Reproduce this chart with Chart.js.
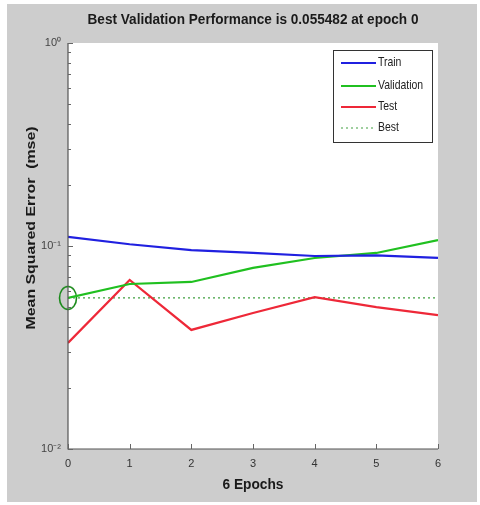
<!DOCTYPE html>
<html>
<head>
<meta charset="utf-8">
<script src="https://cdn.jsdelivr.net/npm/chart.js@4.4.0/dist/chart.umd.min.js"></script>
<style>
html,body{margin:0;padding:0;background:#fff;}
#c{display:block;}
</style>
</head>
<body>
<canvas id="c" width="480" height="505"></canvas>
<script>
// ---- data ----
const epochs = [0, 1, 2, 3, 4, 5, 6];
const trainMse = [0.111, 0.102, 0.0955, 0.0924, 0.0893, 0.090, 0.0873];
const validationMse = [0.055482, 0.065, 0.0665, 0.078, 0.0873, 0.0924, 0.107];
const testMse = [0.0333, 0.068, 0.0386, 0.0468, 0.056, 0.050, 0.0457];
const bestValue = 0.055482;
const bestEpoch = 0;
const xTickLabels = ['0', '1', '2', '3', '4', '5', '6'];
const yDecades = [0.01, 0.1, 1];
const yDecadeLabels = ['10\u207B\u00B2', '10\u207B\u00B9', '10\u2070'];
const titleText = 'Best Validation Performance is 0.055482 at epoch 0';
const xTitleText = '6 Epochs';
const yTitleText = 'Mean Squared Error  (mse)';
const legendNames = ['Train', 'Validation', 'Test', 'Best'];

// ellipse marker for best point
const ell = document.createElement('canvas');
ell.width = 20; ell.height = 26;
(function(){
  const g = ell.getContext('2d');
  g.strokeStyle = '#1a8a1a'; g.lineWidth = 1.6;
  g.beginPath(); g.ellipse(10, 13, 8.5, 11.5, 0, 0, Math.PI*2); g.stroke();
})();

const toXY = arr => arr.map((v, i) => ({x: epochs[i], y: v}));

const yTicks = [];
for (let d = 0; d < yDecades.length - 1; d++) {
  for (let k = 1; k < 10; k++) yTicks.push(+(yDecades[d] * k).toPrecision(3));
}
yTicks.push(yDecades[yDecades.length - 1]);

function fitText(ctx, text, cx, cy, targetW, font, color, rot) {
  ctx.save();
  ctx.font = font;
  ctx.fillStyle = color;
  ctx.textAlign = 'center';
  ctx.textBaseline = 'middle';
  const w = ctx.measureText(text).width;
  ctx.translate(cx, cy);
  if (rot) ctx.rotate(rot);
  ctx.scale(targetW / w, 1);
  ctx.fillText(text, 0, 0);
  ctx.restore();
}

const decor = {
  id: 'decor',
  beforeDraw(chart) {
    const ctx = chart.ctx, a = chart.chartArea;
    ctx.save();
    ctx.fillStyle = '#ffffff';
    ctx.fillRect(0, 0, 480, 505);
    ctx.fillStyle = '#cdcdcd';
    ctx.fillRect(7, 4, 470, 498);
    ctx.fillStyle = '#ffffff';
    ctx.fillRect(a.left, a.top, a.right - a.left, a.bottom - a.top);
    ctx.restore();
  },
  afterDraw(chart) {
    const ctx = chart.ctx, a = chart.chartArea;
    const xs = chart.scales.x, ys = chart.scales.y;
    ctx.save();
    // axes lines
    ctx.strokeStyle = '#555';
    ctx.lineWidth = 1.2;
    ctx.beginPath();
    ctx.moveTo(a.left, a.top); ctx.lineTo(a.left, a.bottom); ctx.lineTo(a.right, a.bottom);
    ctx.stroke();
    // inward ticks
    ctx.lineWidth = 1;
    ctx.strokeStyle = '#666';
    ctx.beginPath();
    xs.ticks.forEach(t => {
      const px = Math.round(xs.getPixelForValue(t.value)) + 0.5;
      ctx.moveTo(px, a.bottom); ctx.lineTo(px, a.bottom - 5);
    });
    ys.ticks.forEach(t => {
      const py = Math.round(ys.getPixelForValue(t.value)) + 0.5;
      const major = yDecades.includes(t.value);
      ctx.moveTo(a.left, py); ctx.lineTo(a.left + (major ? 5 : 3), py);
    });
    ctx.stroke();
    // legend
    const lx = 333, ly = 50, lw = 99, lh = 92;
    ctx.fillStyle = '#fff';
    ctx.fillRect(lx, ly, lw, lh);
    ctx.strokeStyle = '#333';
    ctx.lineWidth = 1;
    ctx.strokeRect(lx + 0.5, ly + 0.5, lw, lh);
    const rows = [63, 86, 107, 128];
    chart.data.datasets.slice(0, 4).forEach((ds, i) => {
      ctx.beginPath();
      ctx.strokeStyle = ds.borderColor;
      ctx.lineWidth = ds.borderWidth;
      ctx.setLineDash(ds.borderDash || []);
      ctx.moveTo(341, rows[i]); ctx.lineTo(376, rows[i]);
      ctx.stroke();
      ctx.setLineDash([]);
      ctx.font = '11px "Liberation Sans", Arial, sans-serif';
      ctx.fillStyle = '#222';
      ctx.textAlign = 'left';
      ctx.textBaseline = 'middle';
      ctx.save();
      ctx.translate(378, rows[i]);
      ctx.scale(0.95, 1.1);
      ctx.fillText(legendNames[i], 0, 0);
      ctx.restore();
    });
    // titles
    fitText(ctx, titleText, 253, 20, 331, 'bold 14px "Liberation Sans", Arial, sans-serif', '#1a1a1a', 0);
    fitText(ctx, xTitleText, 253, 485, 61, 'bold 14px "Liberation Sans", Arial, sans-serif', '#1a1a1a', 0);
    fitText(ctx, yTitleText, 31, 228, 203, 'bold 13px "Liberation Sans", Arial, sans-serif', '#1a1a1a', -Math.PI / 2);
    ctx.restore();
  }
};

new Chart(document.getElementById('c'), {
  type: 'line',
  data: {
    datasets: [
      {label: legendNames[0], data: toXY(trainMse), borderColor: '#2020e0', borderWidth: 2.2, pointRadius: 0, tension: 0},
      {label: legendNames[1], data: toXY(validationMse), borderColor: '#20c020', borderWidth: 2.2, pointRadius: 0, tension: 0},
      {label: legendNames[2], data: toXY(testMse), borderColor: '#ee2838', borderWidth: 2.2, pointRadius: 0, tension: 0},
      {label: legendNames[3], data: epochs.map(e => ({x: e, y: bestValue})), borderColor: '#40a040', borderWidth: 1.2, borderDash: [2, 3], pointRadius: 0, tension: 0},
      {label: 'bestPoint', data: [{x: bestEpoch, y: bestValue}], showLine: false, pointStyle: ell, pointRadius: 10, borderColor: '#1a8a1a', clip: false}
    ]
  },
  options: {
    responsive: false,
    animation: false,
    devicePixelRatio: 1,
    layout: {padding: {top: 43, right: 42, left: 0, bottom: 0}},
    plugins: {legend: {display: false}, title: {display: false}, tooltip: {enabled: false}},
    scales: {
      x: {
        type: 'linear', min: 0, max: 6,
        grid: {display: false, drawTicks: false},
        border: {display: false},
        ticks: {stepSize: 1, padding: 8, color: '#333', font: {size: 11, family: '"Liberation Sans", Arial, sans-serif'},
          callback: v => xTickLabels[v] ?? ''},
        afterFit: s => { s.height = 56; }
      },
      y: {
        type: 'logarithmic', min: 0.01, max: 1,
        grid: {display: false, drawTicks: false},
        border: {display: false},
        afterBuildTicks: s => { s.ticks = yTicks.map(v => ({value: v})); },
        ticks: {padding: 7, color: '#444', autoSkip: false, font: {size: 11, family: '"Liberation Sans", Arial, sans-serif'},
          callback: v => { const i = yDecades.indexOf(v); return i >= 0 ? yDecadeLabels[i] : ''; }},
        afterFit: s => { s.width = 68; }
      }
    }
  },
  plugins: [decor]
});
</script>
</body>
</html>
